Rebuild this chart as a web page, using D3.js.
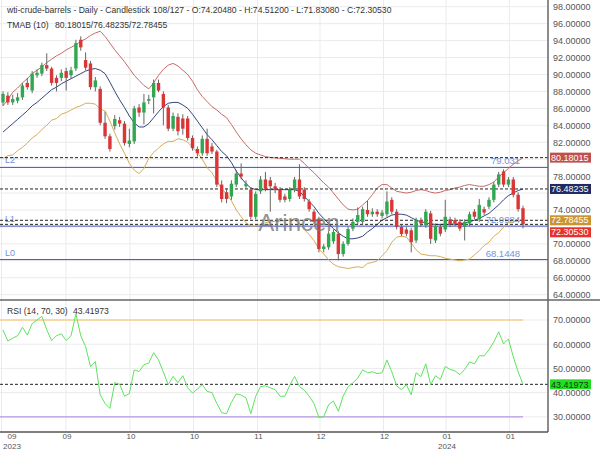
<!DOCTYPE html>
<html><head><meta charset="utf-8">
<script src="https://cdn.jsdelivr.net/npm/d3@7"></script>
<style>body{margin:0;background:#fff}svg{display:block;font-family:"Liberation Sans",Arial,sans-serif}</style>
</head><body><svg id="c" width="600" height="450"></svg>
<script>
const opens=[86.7,87.5,86.7,86.9,87.3,89.0,88.1,89.9,90.1,91.1,90.7,89.6,89.6,90.4,89.9,90.7,94.1,91.7,91.3,88.5,88.3,84.3,82.7,83.9,84.6,84.2,81.8,82.1,86.1,85.5,86.9,87.3,89.0,87.7,86.1,83.6,85.0,84.8,84.8,82.5,81.2,80.7,82.4,81.5,80.9,77.0,76.1,75.6,77.0,78.3,76.8,76.4,73.2,76.2,77.6,77.5,76.8,76.4,75.6,75.3,76.4,77.6,76.4,75.0,73.8,72.9,69.4,69.6,70.3,71.2,68.8,70.0,71.8,72.6,72.6,74.0,73.5,73.8,73.3,73.5,75.2,73.8,72.0,71.7,71.6,70.4,72.8,72.2,73.6,70.4,72.0,71.7,72.9,72.8,72.6,72.0,72.4,73.8,72.9,74.1,74.4,75.2,77.0,78.55,77.0,77.6,75.8,74.2048];
const highs=[88.0,87.9,87.6,87.8,89.0,89.6,90.4,90.6,91.4,92.5,90.9,89.9,90.6,90.8,90.9,94.1,94.5,92.6,91.6,89.7,88.6,85.6,83.0,85.2,85.0,84.5,83.6,86.3,86.5,87.7,87.6,89.4,89.4,88.0,86.4,85.5,85.4,85.3,85.1,82.8,81.5,82.8,83.6,81.9,81.1,77.5,76.6,77.5,78.7,79.5,77.5,76.7,76.2,78.0,78.5,77.9,77.2,76.7,75.9,76.7,77.9,79.4,76.7,75.3,74.1,73.2,70.0,71.5,71.7,71.5,70.3,72.0,73.0,74.3,74.4,75.1,74.2,74.1,74.0,76.2,75.5,74.1,72.3,72.0,71.9,73.1,73.1,74.1,73.9,72.4,72.3,75.2,73.2,73.1,72.9,72.9,73.8,74.1,75.3,74.4,75.5,77.3,78.5,78.8,77.9,77.9,76.1,74.512];
const lows=[86.3,86.4,86.4,86.6,87.0,88.2,87.8,89.6,89.8,90.4,88.7,88.0,89.2,88.1,89.5,90.4,92.8,90.5,88.2,88.0,84.0,82.4,80.9,83.5,83.8,81.6,81.4,81.8,85.0,84.1,86.5,85.4,87.9,84.0,83.3,83.3,82.8,82.9,82.2,81.0,80.3,80.4,80.4,80.6,76.7,74.9,74.8,75.2,76.7,77.6,76.5,72.9,72.9,75.9,76.2,73.8,76.0,74.9,74.9,75.0,76.1,75.3,75.0,73.8,72.3,69.0,69.0,69.3,70.0,68.05,68.5,69.8,71.5,72.3,72.3,73.2,73.2,73.2,73.0,73.2,73.5,71.7,70.9,70.9,69.0,70.1,72.0,71.9,70.0,70.1,70.9,71.4,72.0,72.1,71.5,70.4,72.1,72.9,72.6,73.4,74.1,74.9,76.7,76.7,76.7,75.5,73.8,71.8308];
const closes=[87.7,86.7,87.1,87.3,88.7,88.5,90.1,90.2,91.1,90.7,89.0,89.0,90.2,89.6,90.5,93.7,93.2,90.8,88.5,89.3,84.3,82.7,81.2,84.75,84.2,81.9,82.2,86.0,85.5,86.7,87.1,89.0,88.1,86.1,83.6,85.1,83.3,83.6,82.5,81.3,80.7,82.4,80.7,80.9,77.0,75.3,75.3,77.1,78.3,77.95,77.1,73.2,75.9,77.6,76.5,76.8,76.4,75.2,75.2,76.4,77.6,75.6,75.3,74.1,72.6,69.4,69.7,71.2,71.4,68.8,70.0,71.75,72.6,73.4,74.1,73.5,73.8,73.5,73.7,75.0,73.8,72.0,71.15,71.2,70.2,72.8,72.4,73.8,70.6,72.1,71.2,73.2,72.3,72.4,71.8,72.6,73.5,73.2,74.6,73.7,75.2,77.0,78.2,77.0,77.6,75.8,74.1,72.3053];
const tmaUpper=[86.3,87.0,87.9,88.4,89.0,89.5,90.1,90.5,90.9,91.4,91.8,92.2,92.5,92.9,93.2,93.5,93.9,94.2,94.6,94.9,95.1,94.5,93.7,92.9,92.2,91.5,90.7,89.9,89.3,88.7,88.3,89.0,89.9,90.6,91.1,91.3,91.0,90.5,90.0,89.2,88.2,87.4,86.8,86.2,85.8,85.3,84.9,84.1,83.2,82.4,81.7,81.1,80.7,80.5,80.3,80.2,80.15,80.1,80.05,80.0,80.0,80.0,79.5,78.9,78.4,77.8,77.2,76.7,76.0,75.3,74.6,74.1,74.0,74.1,74.6,75.1,75.8,76.6,77.0,77.0,76.6,76.2,76.1,76.0,76.1,76.3,76.4,76.3,76.1,76.0,76.1,76.3,76.4,76.6,76.7,76.9,77.0,76.9,76.8,76.8,77.0,77.3,77.9,78.4,78.9,79.4,79.8,80.18015];
const tmaMid=[83.2,83.7,84.2,84.7,85.2,85.7,86.3,86.7,87.2,87.7,88.2,88.5,88.9,89.2,89.5,89.8,90.1,90.4,90.6,90.7,90.5,90.1,89.1,88.0,87.0,86.1,85.1,84.3,83.8,83.8,84.2,84.9,85.6,86.2,86.6,86.7,86.7,86.4,86.0,85.3,84.5,83.7,82.9,82.3,81.6,80.9,80.4,79.6,78.6,77.8,77.1,76.6,76.4,76.4,76.4,76.4,76.4,76.4,76.4,76.4,76.4,76.2,75.6,75.0,74.4,73.6,73.0,72.4,71.8,71.3,70.9,70.6,70.6,70.7,70.9,71.4,71.8,72.3,72.8,73.1,73.4,73.5,73.5,73.4,73.1,72.8,72.6,72.5,72.35,72.3,72.3,72.3,72.3,72.35,72.35,72.5,72.6,72.8,73.0,73.3,73.6,74.1,74.6,75.2,75.7,76.0,76.3,76.48235];
const tmaLower=[80.1,80.4,80.5,81.0,81.4,81.9,82.5,82.9,83.5,84.0,84.6,84.8,85.3,85.5,85.8,86.1,86.3,86.6,86.6,86.5,85.9,85.7,84.5,83.1,81.8,80.7,79.5,78.7,78.3,78.9,80.1,80.8,81.3,81.8,82.1,82.1,82.4,82.3,82.0,81.4,80.8,80.0,79.0,78.4,77.4,76.5,75.9,75.1,74.0,73.2,72.5,72.1,72.1,72.3,72.5,72.6,72.65,72.7,72.75,72.8,72.8,72.4,71.7,71.1,70.4,69.4,68.8,68.1,67.6,67.3,67.2,67.1,67.2,67.3,67.2,67.7,67.8,68.0,68.6,69.2,70.2,70.8,70.9,70.8,70.1,69.3,68.8,68.7,68.6,68.6,68.5,68.3,68.2,68.1,68.0,68.1,68.2,68.7,69.2,69.8,70.2,70.9,71.3,72.0,72.5,72.6,72.8,72.78455];
const rsi=[65.9,61.3,62.5,63.5,67.0,63.8,68.5,70.0,71.5,66.0,61.5,63.5,64.3,61.5,63.5,72.5,63.5,59.0,50.8,52.8,39.1,35.5,33.5,44.1,43.5,38.5,39.6,49.4,48.7,51.5,52.2,56.5,53.5,48.5,43.3,46.7,44.1,47.0,42.0,39.8,41.5,43.3,40.5,40.0,35.5,31.7,31.3,36.0,39.5,39.0,37.8,31.3,38.5,42.5,42.8,42.0,41.2,38.5,38.5,43.0,46.7,42.5,41.0,38.5,35.5,29.7,30.1,35.0,36.5,32.3,38.5,42.4,44.0,46.0,49.4,48.2,48.6,47.8,48.2,53.5,48.6,42.8,41.2,43.3,39.1,48.2,46.6,51.9,43.3,47.0,45.4,50.8,49.6,49.0,47.4,49.6,52.7,51.9,55.2,55.2,57.7,61.0,65.1,60.1,62.2,54.8,48.6,43.41973];
const priceTicks=[64,66,68,70,72,74,76,78,80,82,84,86,88,90,92,94,96,98];
const rsiTicks=[20,30,40,50,60,70,80];
const xTickBars=[-0.3,12.96,26.13,39.2,52.37,65.23,78.3,91.16,104.2];
const xTickMonths=["09","09","10","10","11","12","12","01","01"];
const xTickYears=["2023","","","","","","","2024",""];
const levelNames=["L2","L1","L0"];
const levelValues=[79.031,72.0984,68.1448];
const levelTexts=["79.031","72.0984","68.1448"];
const header1="wti-crude-barrels - Daily - Candlestick";
const header2="108/127 - O:74.20480 - H:74.51200 - L:71.83080 - C:72.30530";
const tmaLabel="TMAB (10)", tmaValues="80.18015/76.48235/72.78455";
const rsiLabel="RSI (14, 70, 30)", rsiValue="43.41973";

const plotR=548, mainBot=300, rsiTop=300, rsiBot=432;
const svg=d3.select("#c");
const n=closes.length, last=n-1;
const x=d3.scaleLinear().domain([0,n-1]).range([3,523]);
const y=d3.scaleLinear().domain([64,98]).range([294.7,6.7]);
const yr=d3.scaleLinear().domain([30,70]).range([416.8,320]);
const defs=svg.append("defs");
defs.append("clipPath").attr("id","cm").append("rect").attr("x",0).attr("y",0).attr("width",plotR).attr("height",mainBot);
defs.append("clipPath").attr("id","cr").append("rect").attr("x",0).attr("y",rsiTop).attr("width",plotR).attr("height",rsiBot-rsiTop);
defs.append("clipPath").attr("id","crl").append("rect").attr("x",plotR).attr("y",rsiTop+0.5).attr("width",60).attr("height",rsiBot-rsiTop+1);
defs.append("clipPath").attr("id","cml").append("rect").attr("x",plotR).attr("y",0).attr("width",60).attr("height",mainBot);

const mainMarks=[{v:tmaUpper[last],bg:"#c0504d",fg:"#fff"},{v:tmaMid[last],bg:"#1f2b5e",fg:"#fff"},{v:tmaLower[last],bg:"#c99432",fg:"#fff"},{v:closes[last],bg:"#e5322d",fg:"#fff"}];
const rsiMarks=[{v:rsi[last],bg:"#1fe01f",fg:"#1a3a1a"}];
function layout(list,scale){
  const items=list.map(m=>({...m,cy:scale(m.v)})).sort((a,b)=>a.cy-b.cy);
  for(let i=1;i<items.length;i++){if(items[i].cy-items[i-1].cy<12)items[i].cy=items[i-1].cy+12;}
  return items;
}
const mainB=layout(mainMarks,y), rsiB=layout(rsiMarks,yr);

const grid="#ebebeb";
const gm=svg.append("g").attr("clip-path","url(#cm)");
const gr=svg.append("g").attr("clip-path","url(#cr)");
gm.selectAll(null).data(priceTicks).join("line").attr("x1",0).attr("x2",plotR).attr("y1",d=>y(d)).attr("y2",d=>y(d)).attr("stroke",grid);
gr.selectAll(null).data(rsiTicks).join("line").attr("x1",0).attr("x2",plotR).attr("y1",d=>yr(d)).attr("y2",d=>yr(d)).attr("stroke",grid);
[gm,gr].forEach(g=>g.selectAll(null).data(xTickBars).join("line").attr("x1",d=>x(d)).attr("x2",d=>x(d)).attr("y1",0).attr("y2",rsiBot).attr("stroke",grid));

levelValues.forEach((v,i)=>{
  gm.append("line").attr("x1",0).attr("x2",plotR).attr("y1",y(v)).attr("y2",y(v)).attr("stroke","#3f4fc0").attr("stroke-width",1);
  gm.append("text").attr("x",5).attr("y",y(v)-4).attr("font-size",9).attr("fill","#6f8fdc").text(levelNames[i]);
  gm.append("text").attr("x",520).attr("y",y(v)-3).attr("text-anchor","end").attr("font-size",9.5).attr("fill","#7394e0").text(levelTexts[i]);
});

const line=arr=>d3.line().x((d,i)=>x(i)).y(d=>y(d))(arr);
gm.append("path").attr("d",line(tmaUpper)).attr("fill","none").attr("stroke","#c86a6a").attr("stroke-width",1);
gm.append("path").attr("d",line(tmaMid)).attr("fill","none").attr("stroke","#34457e").attr("stroke-width",1);
gm.append("path").attr("d",line(tmaLower)).attr("fill","none").attr("stroke","#d6ad55").attr("stroke-width",1);

mainMarks.forEach(m=>gm.append("line").attr("x1",0).attr("x2",plotR).attr("y1",y(m.v)).attr("y2",y(m.v)).attr("stroke","#222").attr("stroke-dasharray","3,2"));

const cw=3.4;
const cg=gm.append("g");
cg.selectAll("line.w").data(closes).join("line").attr("x1",(d,i)=>x(i)).attr("x2",(d,i)=>x(i)).attr("y1",(d,i)=>y(highs[i])).attr("y2",(d,i)=>y(lows[i])).attr("stroke","#666").attr("stroke-width",1);
cg.selectAll("rect").data(closes).join("rect").attr("x",(d,i)=>x(i)-cw/2).attr("width",cw)
 .attr("y",(d,i)=>y(Math.max(opens[i],d))).attr("height",(d,i)=>Math.max(1,Math.abs(y(opens[i])-y(d))))
 .attr("fill",(d,i)=>d>=opens[i]?"#2fa84f":"#dc3535");

svg.append("text").attr("x",299).attr("y",231).attr("text-anchor","middle").attr("font-size",24).attr("fill","#777").attr("fill-opacity",0.8).text("Arincen");

gr.append("line").attr("x1",0).attr("x2",x(last)).attr("y1",yr(70)).attr("y2",yr(70)).attr("stroke","#f6cf8c").attr("stroke-width",1.3);
gr.append("line").attr("x1",0).attr("x2",x(last)).attr("y1",yr(30)).attr("y2",yr(30)).attr("stroke","#b497e6").attr("stroke-width",1.3);
gr.append("line").attr("x1",0).attr("x2",plotR).attr("y1",yr(rsi[last])).attr("y2",yr(rsi[last])).attr("stroke","#222").attr("stroke-dasharray","3,2");
gr.append("path").attr("d",d3.line().x((d,i)=>x(i)).y(d=>yr(d))(rsi)).attr("fill","none").attr("stroke","#5ee35e").attr("stroke-width",1);

const fmt=d3.format(".5f");
const visible=(vals,scale,items)=>vals.filter(v=>items.every(b=>Math.abs(scale(v)-b.cy)>8));
const am=svg.append("g").attr("clip-path","url(#cml)").append("g").attr("transform",`translate(${plotR},0)`)
 .call(d3.axisRight(y).tickValues(visible(priceTicks,y,mainB)).tickFormat(fmt).tickSize(0).tickPadding(5));
const ar=svg.append("g").attr("clip-path","url(#crl)").append("g").attr("transform",`translate(${plotR},0)`)
 .call(d3.axisRight(yr).tickValues(visible(rsiTicks,yr,rsiB)).tickFormat(fmt).tickSize(0).tickPadding(5));
[am,ar].forEach(a=>{a.select(".domain").remove();a.selectAll("text").attr("fill","#555").attr("font-size",9).attr("font-family","Liberation Sans, Arial, sans-serif");});

[mainB,rsiB].forEach(items=>items.forEach(m=>{
  svg.append("rect").attr("x",550).attr("y",m.cy-5).attr("width",41).attr("height",10).attr("fill",m.bg);
  svg.append("text").attr("x",551).attr("y",m.cy+3.2).attr("font-size",9).attr("fill",m.fg).text(fmt(m.v));
}));

svg.append("line").attr("x1",plotR).attr("x2",plotR).attr("y1",0).attr("y2",rsiBot).attr("stroke","#666").attr("stroke-width",1.5);
svg.append("line").attr("x1",0).attr("x2",600).attr("y1",rsiTop).attr("y2",rsiTop).attr("stroke","#666").attr("stroke-width",1.3);
svg.append("line").attr("x1",0).attr("x2",plotR).attr("y1",rsiBot).attr("y2",rsiBot).attr("stroke","#555").attr("stroke-width",1.3);

const xl=svg.append("g").attr("font-size",8).attr("fill","#555").attr("text-anchor","middle");
xTickBars.forEach((b,i)=>{
  const px=Math.max(12,x(b)+1);
  xl.append("text").attr("x",px).attr("y",438.8).text(xTickMonths[i]);
  if(xTickYears[i])xl.append("text").attr("x",px).attr("y",448.6).text(xTickYears[i]);
});

const ht=svg.append("g").attr("font-size",8.6).attr("fill","#333");
ht.append("text").attr("x",7).attr("y",13).text(header1);
ht.append("text").attr("x",153).attr("y",13).text(header2);
ht.append("text").attr("x",7).attr("y",28).text(tmaLabel);
ht.append("text").attr("x",55).attr("y",28).text(tmaValues);
ht.append("text").attr("x",7).attr("y",314).text(rsiLabel);
ht.append("text").attr("x",73).attr("y",314).text(rsiValue);
</script></body></html>
